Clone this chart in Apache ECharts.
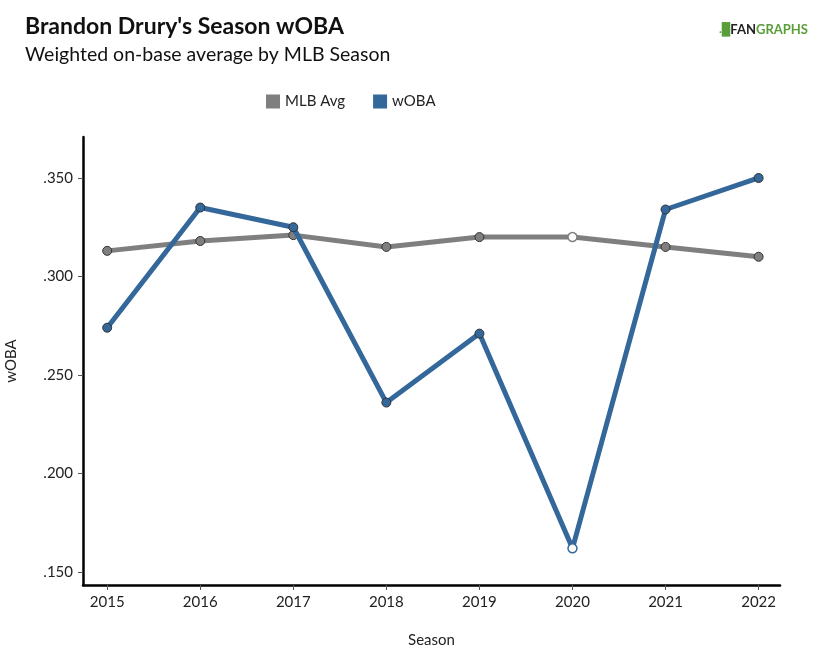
<!DOCTYPE html>
<html>
<head>
<meta charset="utf-8">
<script src="https://cdn.jsdelivr.net/npm/echarts@6/dist/echarts.min.js"></script>
<style>
  html, body { margin: 0; padding: 0; background: #fff; }
  #chart { width: 830px; height: 658px; }
</style>
</head>
<body>
<div id="chart"></div>
<script>
// seasons and values
var seasons = [2015, 2016, 2017, 2018, 2019, 2020, 2021, 2022];
var mlbAvg = [0.313, 0.318, 0.321, 0.315, 0.320, 0.320, 0.315, 0.310];
var woba = [0.274, 0.335, 0.325, 0.236, 0.271, 0.162, 0.334, 0.350];
var yTicks = [0.150, 0.200, 0.250, 0.300, 0.350];
var hollowSeason = 2020; // shortened season, drawn with open markers

var blue = '#34679a';
var gray = '#7f7f7f';

function toPoints(vals, color) {
    var pts = [];
    for (var i = 0; i < seasons.length; i++) {
        pts.push({
            value: [seasons[i], vals[i]],
            itemStyle: seasons[i] === hollowSeason
                ? { color: '#fff', borderColor: color, borderWidth: 1.5 }
                : { color: color, borderColor: '#333', borderWidth: 1 }
        });
    }
    return pts;
}

var myChart = echarts.init(document.getElementById('chart'));
myChart.setOption({
    animation: false,
    textStyle: { fontFamily: 'Lato' },
    title: [{
        text: "Brandon Drury's Season wOBA",
        left: 20, top: 10,
        textStyle: { fontSize: 23, fontWeight: 'bold', color: '#111', fontFamily: 'Lato' }
    }, {
        text: 'Weighted on-base average by MLB Season',
        left: 20, top: 40,
        textStyle: { fontSize: 19.5, fontWeight: 'normal', color: '#111', fontFamily: 'Lato' }
    }],
    graphic: [{
        type: 'text',
        right: 22, top: 23,
        style: {
            text: '{a|.\u2588}{b|FAN}{c|GRAPHS}',
            rich: {
                a: { fill: '#5a9e3a', fontSize: 12, fontWeight: 'bold', fontFamily: 'Lato' },
                b: { fill: '#222', fontSize: 13, fontWeight: 'bold', fontFamily: 'Lato' },
                c: { fill: '#5a9e3a', fontSize: 13, fontWeight: 'bold', fontFamily: 'Lato' }
            }
        }
    }],
    legend: {
        top: 89, left: 261,
        itemWidth: 14, itemHeight: 14, itemGap: 28,
        icon: 'rect',
        textStyle: { fontSize: 15, color: '#222' },
        data: [
            { name: 'MLB Avg', itemStyle: { color: gray, borderWidth: 0 } },
            { name: 'wOBA', itemStyle: { color: blue, borderWidth: 0 } }
        ]
    },
    grid: { left: 83, right: 50, top: 137, bottom: 73, containLabel: false, outerBoundsMode: 'none' },
    xAxis: {
        type: 'value',
        min: 2014.74, max: 2022.23,
        name: 'Season', nameLocation: 'middle', nameGap: 48,
        nameTextStyle: { fontSize: 15, color: '#222' },
        axisLine: { show: true, lineStyle: { color: '#000', width: 2.5 } },
        axisTick: { show: true, customValues: seasons, length: 5, lineStyle: { color: '#555' } },
        axisLabel: { customValues: seasons, fontSize: 15, color: '#222', margin: 10,
            formatter: function (v) { return String(v); } },
        splitLine: { show: false }
    },
    yAxis: {
        type: 'value',
        min: 0.1434, max: 0.3708,
        name: 'wOBA', nameLocation: 'middle', nameGap: 64, nameRotate: 90,
        nameTextStyle: { fontSize: 15, color: '#222' },
        axisLine: { show: true, lineStyle: { color: '#000', width: 2.5 } },
        axisTick: { show: true, customValues: yTicks, length: 5, inside: false, lineStyle: { color: '#555' } },
        axisLabel: { customValues: yTicks, fontSize: 15, color: '#222', margin: 10,
            formatter: function (v) { return v.toFixed(3).replace(/^0/, ''); } },
        splitLine: { show: false }
    },
    series: [{
        name: 'MLB Avg',
        type: 'line',
        data: toPoints(mlbAvg, gray),
        symbol: 'circle', symbolSize: 9,
        lineStyle: { color: gray, width: 5 },
        itemStyle: { color: gray },
        z: 2
    }, {
        name: 'wOBA',
        type: 'line',
        data: toPoints(woba, blue),
        symbol: 'circle', symbolSize: 9,
        lineStyle: { color: blue, width: 5 },
        itemStyle: { color: blue },
        z: 3
    }]
});
</script>
</body>
</html>
